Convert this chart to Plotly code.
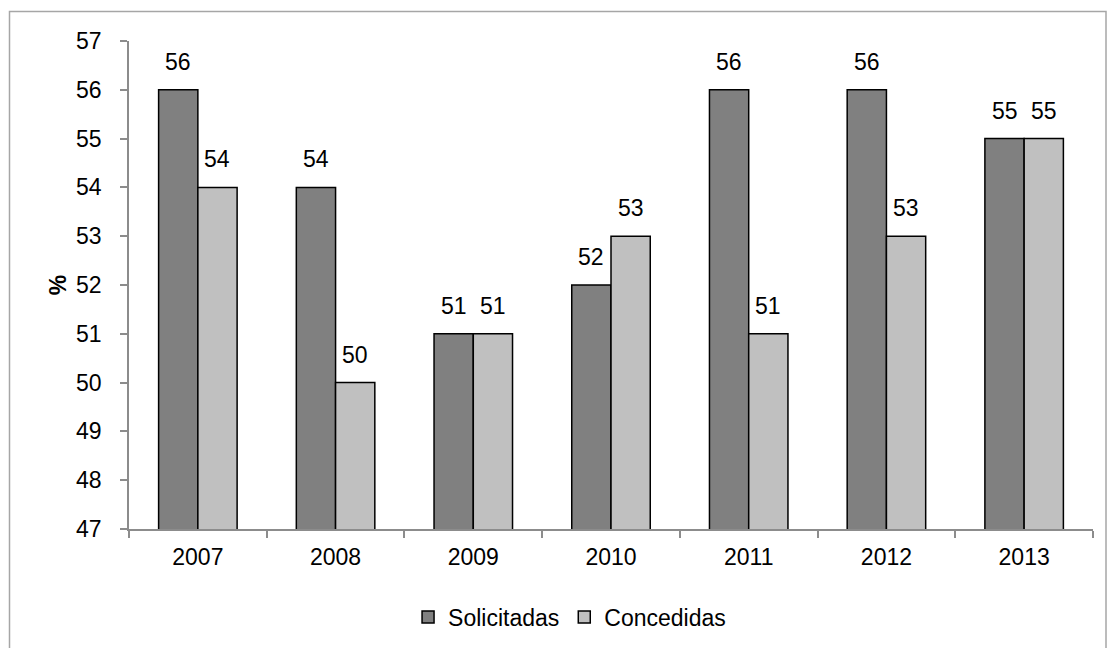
import plotly.graph_objects as go

years = ["2007", "2008", "2009", "2010", "2011", "2012", "2013"]
solicitadas = [56, 54, 51, 52, 56, 56, 55]
concedidas = [54, 50, 51, 53, 51, 53, 55]

FONT = "Liberation Sans Narrow, Arial Narrow, Liberation Sans, sans-serif"
FS = 23
L, R, T, B = 129, 15, 41, 119
W, H = 1108, 648
pw = W - L - R
ph = H - T - B
GAP = 0.43

fig = go.Figure()
fig.add_trace(go.Bar(x=years, y=solicitadas, name="Solicitadas",
                     marker=dict(color="#808080", line=dict(color="black", width=1.5))))
fig.add_trace(go.Bar(x=years, y=concedidas, name="Concedidas",
                     marker=dict(color="#c0c0c0", line=dict(color="black", width=1.5))))

# data labels (x given as category index)
half = (1 - GAP) / 4
for vals, off in ((solicitadas, -half), (concedidas, half)):
    for i, v in enumerate(vals):
        fig.add_annotation(x=i + off, y=v, text=str(v), showarrow=False,
                           yanchor="bottom", yshift=13,
                           font=dict(family=FONT, size=FS, color="black"))

# outer border
fig.add_shape(type="rect", xref="paper", yref="paper",
              x0=(9.5 - L) / pw, x1=(1106 - L) / pw,
              y0=(H - B - 11.5) / ph, y1=(H - B - 700) / ph,
              line=dict(color="#a6a6a6", width=1.5), fillcolor="rgba(0,0,0,0)", layer="below")

fig.update_layout(
    width=W, height=H,
    margin=dict(l=L, r=R, t=T, b=B, autoexpand=False),
    barmode="group", bargap=GAP, bargroupgap=0,
    plot_bgcolor="white", paper_bgcolor="white",
    font=dict(family=FONT, size=FS, color="black"),
    showlegend=True,
    legend=dict(orientation="h", x=0.457, xanchor="center", y=(H - B - 617) / ph, yanchor="middle",
                font=dict(family=FONT, size=FS, color="black"), itemwidth=30,
                traceorder="normal"),
    xaxis=dict(type="category", categoryorder="array", categoryarray=years,
               range=[-0.5, len(years) - 0.5],
               showline=True, linecolor="#8c8c8c", linewidth=1.5, ticks="outside",
               ticklen=7, tickcolor="#8c8c8c", tickwidth=1.5, tickson="boundaries",
               showgrid=False, ticklabelstandoff=7, zeroline=False),
    yaxis=dict(range=[47, 57], dtick=1, showline=True, linecolor="#8c8c8c", linewidth=1.5,
               ticks="outside", ticklen=7, tickcolor="#8c8c8c", tickwidth=1.5,
               showgrid=False, zeroline=False, ticklabelstandoff=14,
               title=dict(text="<b>%</b>", standoff=3, font=dict(family=FONT, size=FS))),
)

fig.write_html("out.html")
